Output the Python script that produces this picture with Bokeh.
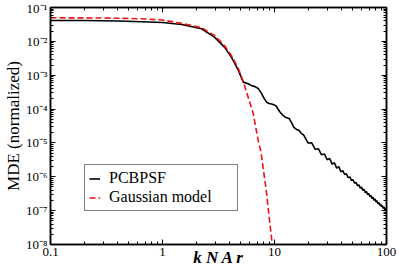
from bokeh.plotting import figure
from bokeh.models import (LogAxis, FixedTicker, CustomJSTickFormatter, Legend,
                          LegendItem)
from bokeh.embed import file_html
from bokeh.resources import INLINE

# ---- data ----
pcb_x = [0.1, 0.2, 0.4, 0.656, 1.0, 1.48, 2.23, 2.91, 3.57, 4.12, 4.76, 5.26,
         5.83, 6.2, 6.7, 7.15, 7.6, 8.08, 8.5, 8.96, 9.6, 10.3, 11.1, 11.9,
         12.7, 13.5, 14.2, 14.9, 15.7, 16.5, 17.4, 18.3,
         19.9, 21.5, 23.1, 24.7, 26.3, 27.9, 29.5, 31.1, 32.7, 34.3, 35.9,
         37.5, 39.1, 40.7, 42.3, 43.9, 45.5, 47.1, 48.7, 50.3, 51.9, 53.5,
         55.1, 56.7, 58.3, 59.9, 61.5, 63.1, 64.7, 66.3, 67.9, 69.5, 71.1,
         72.7, 74.3, 75.9, 77.5, 79.1, 80.7, 82.3, 83.9, 85.5, 87.1, 88.7,
         90.3, 91.9, 93.5, 95.1, 96.7, 98.3, 99.9]
pcb_y = [0.0414, 0.0412, 0.0400, 0.0379, 0.0361, 0.0316, 0.0235, 0.0133,
         6.75e-3, 3.42e-3, 1.39e-3, 6.25e-4,
         5.6e-4, 5.0e-4, 4.6e-4, 4.07e-4, 3.0e-4, 2.07e-4, 1.6e-4, 1.47e-4,
         1.38e-4, 1.25e-4, 8.5e-5, 6.5e-5,
         5.6e-5, 5.3e-5, 4.0e-5, 2.9e-5, 2.5e-5, 2.35e-5, 1.9e-5, 1.67e-5,
         1.00e-5, 1.01e-5, 6.5e-6, 6.7e-6, 4.46e-6, 4.73e-6, 3.19e-6, 3.45e-6,
         2.37e-6, 2.59e-6, 1.80e-6,
         2.00e-6, 1.41e-6, 1.52e-6, 1.17e-6, 1.22e-6, 9.45e-7, 9.94e-7,
         7.76e-7, 8.2e-7, 6.45e-7, 6.85e-7,
         5.41e-7, 5.79e-7, 4.6e-7, 4.94e-7, 3.93e-7, 4.24e-7, 3.39e-7,
         3.67e-7, 2.95e-7, 3.2e-7, 2.58e-7,
         2.81e-7, 2.27e-7, 2.48e-7, 2.01e-7, 2.19e-7, 1.79e-7, 1.95e-7,
         1.59e-7, 1.75e-7, 1.43e-7, 1.58e-7,
         1.29e-7, 1.42e-7, 1.16e-7, 1.28e-7, 1.05e-7, 1.17e-7, 9.6e-8]

gauss_x = [0.1, 0.3, 0.656, 1.0, 1.48, 2.23, 2.91, 3.57, 4.12, 4.76, 5.26,
           5.83, 6.45, 7.15, 7.58, 8.43, 9.55, 10.0]
gauss_y = [0.0497, 0.0490, 0.0464, 0.0427, 0.034, 0.0255, 0.0150, 7.57e-3,
           3.84e-3, 1.56e-3, 6.56e-4, 2.21e-4, 7.46e-5, 1.19e-5, 5.3e-6,
           4.0e-7, 1.0e-8, 2.5e-9]

x_major = [0.1, 1, 10, 100]
y_major = [1e-8, 1e-7, 1e-6, 1e-5, 1e-4, 1e-3, 1e-2, 1e-1]

SERIF = "serif"

p = figure(width=399, height=274, x_axis_type="log", y_axis_type="log",
           x_range=(0.1, 100), y_range=(1e-8, 1e-1),
           output_backend="svg", toolbar_location=None,
           min_border_left=48, min_border_right=13, min_border_top=7,
           min_border_bottom=30)

p.xgrid.visible = False
p.ygrid.visible = False
p.outline_line_color = "black"
p.outline_line_width = 1.5

x_minor = [m * 10.0 ** e for e in range(-1, 2) for m in range(2, 10)]
y_minor = [m * 10.0 ** e for e in range(-8, -1) for m in range(2, 10)]

yfmt = CustomJSTickFormatter(code="""
const e = Math.round(Math.log10(tick));
const sup = {"-":"\u207b","0":"\u2070","1":"\u00b9","2":"\u00b2","3":"\u00b3",
             "4":"\u2074","5":"\u2075","6":"\u2076","7":"\u2077","8":"\u2078","9":"\u2079"};
return "10" + String(e).split("").map(c => sup[c]).join("");
""")
xfmt = CustomJSTickFormatter(code="""
return tick < 1 ? tick.toFixed(1) : tick.toFixed(0);
""")
blank = CustomJSTickFormatter(code="return '';")


def style(ax, show_labels):
    ax.axis_line_width = 1.5
    ax.axis_line_color = "black"
    ax.major_tick_in = 5
    ax.major_tick_out = 0
    ax.minor_tick_in = 3
    ax.minor_tick_out = 0
    ax.major_tick_line_width = 1
    ax.minor_tick_line_width = 1
    ax.major_label_standoff = 3
    ax.major_label_text_font = SERIF
    ax.major_label_text_color = "black"
    ax.major_label_text_font_size = "13px"
    ax.axis_label_text_font = SERIF
    ax.axis_label_text_color = "black"
    if not show_labels:
        ax.major_label_standoff = 0
        ax.major_label_text_font_size = "1px"


p.xaxis.ticker = FixedTicker(ticks=x_major, minor_ticks=x_minor)
p.yaxis.ticker = FixedTicker(ticks=y_major, minor_ticks=y_minor)
p.xaxis.formatter = xfmt
p.yaxis.formatter = yfmt
style(p.xaxis[0], True)
style(p.yaxis[0], True)

p.xaxis.axis_label = "k N\u2009A r"
p.xaxis.axis_label_text_font_size = "17px"
p.xaxis.axis_label_text_font_style = "bold italic"
p.xaxis.axis_label_standoff = -11
p.yaxis.axis_label = "MDE (normalized)"
p.yaxis.axis_label_text_font_size = "17px"
p.yaxis.axis_label_text_font_style = "normal"
p.yaxis.axis_label_standoff = 0

top = LogAxis(ticker=FixedTicker(ticks=x_major, minor_ticks=x_minor),
              formatter=blank)
style(top, False)
p.add_layout(top, "above")
right = LogAxis(ticker=FixedTicker(ticks=y_major, minor_ticks=y_minor),
                formatter=blank)
style(right, False)
p.add_layout(right, "right")

r1 = p.line(pcb_x, pcb_y, line_color="black", line_width=1.6)
r2 = p.line(gauss_x, gauss_y, line_color="#ee1111", line_width=1.6,
            line_dash="6 3")

legend = Legend(items=[LegendItem(label="PCBPSF", renderers=[r1]),
                       LegendItem(label="Gaussian model", renderers=[r2])],
                location=(34, 33))
legend.label_text_font = SERIF
legend.label_text_font_size = "16px"
legend.label_text_color = "black"
legend.glyph_width = 11
legend.glyph_height = 13
legend.label_height = 13
legend.label_width = 124
legend.label_standoff = 9
legend.padding = 4
legend.spacing = 1
legend.margin = 0
legend.border_line_color = "black"
legend.border_line_width = 1.5
legend.background_fill_alpha = 1
p.add_layout(legend, "center")

open("out.html", "w").write(file_html(p, INLINE))
